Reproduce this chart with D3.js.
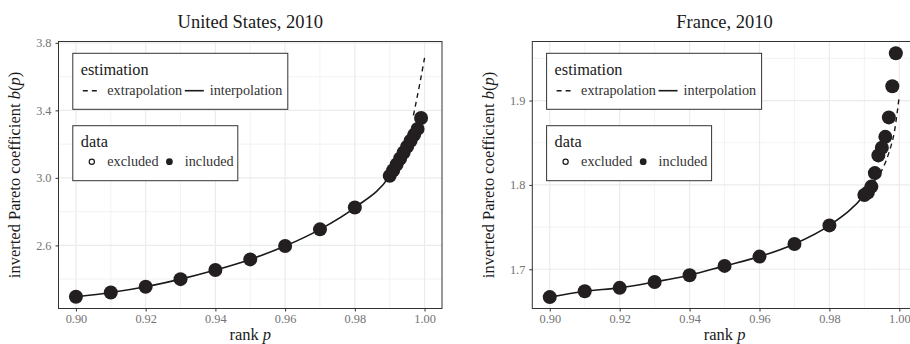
<!DOCTYPE html>
<html><head><meta charset="utf-8">
<script src="https://cdn.jsdelivr.net/npm/d3@7"></script>
<style>
html,body{margin:0;padding:0;background:#fff;}
svg text, svg tspan{font-family:"Liberation Serif","Times New Roman",serif !important;}
</style></head>
<body><svg id="c" width="910" height="344"></svg>
<script>
// ---- data ----
const ranks = [0.90,0.91,0.92,0.93,0.94,0.95,0.96,0.97,0.98,0.990,0.991,0.992,0.993,0.994,0.995,0.996,0.997,0.998,0.999];
const usValues = [2.296,2.321,2.355,2.400,2.454,2.517,2.596,2.695,2.824,3.012,3.045,3.080,3.115,3.150,3.185,3.220,3.255,3.290,3.355];
const frValues = [1.667,1.674,1.678,1.685,1.693,1.704,1.715,1.730,1.752,1.788,1.791,1.798,1.814,1.835,1.844,1.857,1.880,1.917,1.956];
const usExtrapP = [0.9968,0.99733,0.99877,1.0];
const usExtrapB = [3.37,3.424,3.573,3.711];
const frExtrapP = [0.993,0.997,0.99857,1.0];
const frExtrapB = [1.805,1.838,1.8626,1.906];
const frInterpEndP = 0.993, frInterpEndB = 1.805;
const xTicks = [0.90,0.92,0.94,0.96,0.98,1.00];
const usYTicks = [2.6,3.0,3.4,3.8];
const frYTicks = [1.7,1.8,1.9];
const titles = ["United States, 2010","France, 2010"];

const FF = "'Liberation Serif','Times New Roman',serif";
const svg = d3.select("#c");
const Y0 = 41.5, Y1 = 308.5;
const grid = "#ebebeb", border = "#333333", tickCol = "#737373";

function txt(sel){ return sel.append("text").style("font-family",FF); }

function panel(opt){
  const g = svg.append("g");
  const x = d3.scaleLinear().domain([0.895,1.005]).range([opt.x0,opt.x1]);
  const y = d3.scaleLinear().domain(opt.yDom).range([Y1,Y0]);
  const cid = "clip"+opt.id;
  svg.append("clipPath").attr("id",cid).append("rect")
    .attr("x",opt.x0).attr("y",Y0).attr("width",opt.x1-opt.x0).attr("height",Y1-Y0);
  const pg = g.append("g").attr("clip-path",`url(#${cid})`);
  const xMinor = d3.range(0.91,1.0,0.02);
  pg.selectAll(".xm").data(xMinor).join("line")
    .attr("x1",d=>x(d)).attr("x2",d=>x(d)).attr("y1",Y0).attr("y2",Y1)
    .attr("stroke",grid).attr("stroke-width",0.6);
  pg.selectAll(".ym").data(opt.yMinor).join("line")
    .attr("y1",d=>y(d)).attr("y2",d=>y(d)).attr("x1",opt.x0).attr("x2",opt.x1)
    .attr("stroke",grid).attr("stroke-width",0.6);
  pg.selectAll(".xg").data(xTicks).join("line")
    .attr("x1",d=>x(d)).attr("x2",d=>x(d)).attr("y1",Y0).attr("y2",Y1)
    .attr("stroke",grid).attr("stroke-width",1.2);
  pg.selectAll(".yg").data(opt.yTicks).join("line")
    .attr("y1",d=>y(d)).attr("y2",d=>y(d)).attr("x1",opt.x0).attr("x2",opt.x1)
    .attr("stroke",grid).attr("stroke-width",1.2);

  const line = d3.line().x(d=>x(d[0])).y(d=>y(d[1])).curve(d3.curveMonotoneX);
  pg.append("path").datum(opt.interp).attr("d",line)
    .attr("fill","none").attr("stroke","#1a1a1a").attr("stroke-width",1.6);
  pg.append("path").datum(opt.extrap).attr("d",line)
    .attr("fill","none").attr("stroke","#1a1a1a").attr("stroke-width",1.4)
    .attr("stroke-dasharray","5,4");
  pg.selectAll(".pt").data(ranks.map((r,i)=>[r,opt.vals[i]])).join("circle")
    .attr("cx",d=>x(d[0])).attr("cy",d=>y(d[1])).attr("r",7)
    .attr("fill","#231f20");

  g.append("rect").attr("x",opt.x0).attr("y",Y0).attr("width",opt.x1-opt.x0).attr("height",Y1-Y0)
    .attr("fill","none").attr("stroke",border).attr("stroke-width",1);

  const xa = g.append("g").attr("transform",`translate(0,${Y1})`)
    .call(d3.axisBottom(x).tickValues(xTicks).tickFormat(d3.format(".2f")).tickSize(3).tickPadding(3));
  xa.select(".domain").remove();
  xa.attr("font-family",null);
  xa.selectAll("line").attr("stroke",border);
  xa.selectAll("text").attr("fill",tickCol).attr("font-size","12.3px").style("font-family",FF);
  const ya = g.append("g").attr("transform",`translate(${opt.x0},0)`)
    .call(d3.axisLeft(y).tickValues(opt.yTicks).tickFormat(d3.format(".1f")).tickSize(3).tickPadding(4));
  ya.select(".domain").remove();
  ya.attr("font-family",null);
  ya.selectAll("line").attr("stroke",border);
  ya.selectAll("text").attr("fill",tickCol).attr("font-size","12.3px").style("font-family",FF);

  const cx = (opt.x0+opt.x1)/2;
  txt(g).attr("x",cx).attr("y",28).attr("text-anchor","middle")
    .attr("font-size","18.5px").attr("fill","#1a1a1a").text(opt.title);
  const xt = txt(g).attr("x",cx).attr("y",340).attr("text-anchor","middle")
    .attr("font-size","16.5px").attr("fill","#1a1a1a");
  xt.append("tspan").text("rank ");
  xt.append("tspan").attr("font-style","italic").text("p");
  const yt = txt(g).attr("transform",`translate(${opt.x0-38.5},${(Y0+Y1)/2}) rotate(-90)`)
    .attr("text-anchor","middle").attr("font-size","16.5px").attr("fill","#1a1a1a");
  yt.append("tspan").text("inverted Pareto coefficient ");
  yt.append("tspan").attr("font-style","italic").text("b");
  yt.append("tspan").text("(");
  yt.append("tspan").attr("font-style","italic").text("p");
  yt.append("tspan").text(")");

  const lx = opt.x0+14.3;
  const lg = g.append("g");
  lg.append("rect").attr("x",lx).attr("y",53.3).attr("width",215).attr("height",56)
    .attr("fill","#fff").attr("stroke",border).attr("stroke-width",1);
  txt(lg).attr("x",lx+8).attr("y",75).attr("font-size","16.3px").attr("fill","#1a1a1a").text("estimation");
  lg.append("line").attr("x1",lx+10).attr("x2",lx+28).attr("y1",90.7).attr("y2",90.7)
    .attr("stroke","#1a1a1a").attr("stroke-width",1.4).attr("stroke-dasharray","5,4");
  txt(lg).attr("x",lx+34.5).attr("y",95).attr("font-size","14.2px").attr("fill","#333").text("extrapolation");
  lg.append("line").attr("x1",lx+112).attr("x2",lx+131).attr("y1",90.7).attr("y2",90.7)
    .attr("stroke","#1a1a1a").attr("stroke-width",1.6);
  txt(lg).attr("x",lx+137).attr("y",95).attr("font-size","14.2px").attr("fill","#333").text("interpolation");

  lg.append("rect").attr("x",lx).attr("y",125.7).attr("width",165).attr("height",55)
    .attr("fill","#fff").attr("stroke",border).attr("stroke-width",1);
  txt(lg).attr("x",lx+8).attr("y",147).attr("font-size","16.3px").attr("fill","#1a1a1a").text("data");
  lg.append("circle").attr("cx",lx+19).attr("cy",161.7).attr("r",2.6)
    .attr("fill","#fff").attr("stroke","#1a1a1a").attr("stroke-width",1.2);
  txt(lg).attr("x",lx+34.5).attr("y",166).attr("font-size","14.2px").attr("fill","#333").text("excluded");
  lg.append("circle").attr("cx",lx+96.6).attr("cy",161.7).attr("r",3.4).attr("fill","#231f20");
  txt(lg).attr("x",lx+112).attr("y",166).attr("font-size","14.2px").attr("fill","#333").text("included");
}

panel({id:"us",x0:58.5,x1:442,yDom:[2.226,3.808],yTicks:usYTicks,yMinor:[2.4,2.8,3.2,3.6],
  vals:usValues,title:titles[0],
  interp:ranks.map((r,i)=>[r,usValues[i]]),
  extrap:usExtrapP.map((p,i)=>[p,usExtrapB[i]])});
panel({id:"fr",x0:532.3,x1:916.8,yDom:[1.6535,1.970],yTicks:frYTicks,yMinor:[1.65,1.75,1.85,1.95],
  vals:frValues,title:titles[1],
  interp:ranks.slice(0,10).map((r,i)=>[r,frValues[i]]).concat([[frInterpEndP,frInterpEndB]]),
  extrap:frExtrapP.map((p,i)=>[p,frExtrapB[i]])});
</script></body></html>
